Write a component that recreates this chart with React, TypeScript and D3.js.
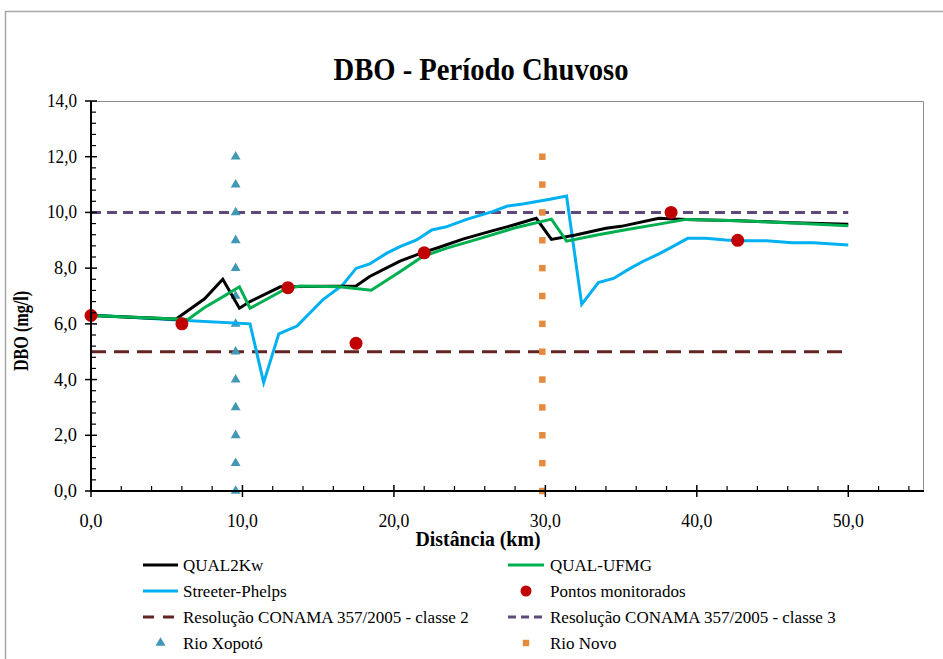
import React from "react";
import * as d3 from "d3";

const qual2kwX = [0, 5.6, 7.5, 8.7, 9.8, 10.5, 12.5, 17.5, 18.4, 20.4, 21.9, 23.0, 24.6, 26.3, 27.9, 29.4, 30.4, 32.0, 34.0, 35.0, 37.5, 39.3, 42.8, 46.3, 50.0];
const qual2kwY = [6.3, 6.17, 6.9, 7.6, 6.56, 6.8, 7.33, 7.36, 7.7, 8.25, 8.56, 8.75, 9.05, 9.31, 9.55, 9.79, 9.03, 9.19, 9.43, 9.5, 9.79, 9.75, 9.7, 9.63, 9.58];

const ufmgX = [0, 6.4, 7.5, 8.7, 9.8, 10.5, 12.9, 13.8, 16.4, 18.5, 20.4, 21.9, 23.5, 25.7, 27.9, 30.4, 31.4, 33.4, 35.4, 37.5, 39.3, 42.8, 46.3, 50.0];
const ufmgY = [6.3, 6.16, 6.59, 6.97, 7.33, 6.56, 7.27, 7.36, 7.33, 7.21, 7.87, 8.42, 8.72, 9.07, 9.43, 9.76, 8.97, 9.19, 9.39, 9.58, 9.75, 9.7, 9.62, 9.52];

const spX = [0, 5.65, 10.5, 11.4, 12.4, 13.6, 15.3, 16.6, 17.5, 18.4, 19.5, 20.4, 21.5, 22.5, 23.5, 24.8, 26.5, 27.5, 28.5, 30.3, 31.4, 32.4, 33.5, 34.5, 35.6, 36.4, 37.5, 38.4, 39.4, 40.6, 41.9, 42.8, 44.6, 46.3, 47.7, 50.0];
const spY = [6.32, 6.14, 6.0, 3.89, 5.64, 5.92, 6.86, 7.39, 7.99, 8.15, 8.53, 8.77, 9.01, 9.37, 9.49, 9.75, 10.03, 10.23, 10.3, 10.47, 10.59, 6.7, 7.48, 7.63, 7.99, 8.23, 8.51, 8.77, 9.07, 9.07, 9.01, 8.98, 8.98, 8.91, 8.91, 8.83];

const monX = [0, 6.0, 13.0, 17.5, 22.0, 38.3, 42.7];
const monY = [6.3, 6.0, 7.3, 5.3, 8.55, 10.0, 9.0];

const classe2X = [0, 50];
const classe2Y = [5, 5];
const classe3X = [0, 50];
const classe3Y = [10, 10];

const xopotoKm = 9.55;
const novoKm = 29.8;
const tribLevels = [0, 1, 2, 3, 4, 5, 6, 7, 8, 9, 10, 11, 12];

const xMajor = [0, 10, 20, 30, 40, 50];
const yMajor = [0, 2, 4, 6, 8, 10, 12, 14];

const title = "DBO - Período Chuvoso";
const xTitle = "Distância (km)";
const yTitle = "DBO (mg/l)";

const legendCol1 = ["QUAL2Kw", "Streeter-Phelps", "Resolução CONAMA 357/2005 - classe 2", "Rio Xopotó"];
const legendCol2 = ["QUAL-UFMG", "Pontos monitorados", "Resolução CONAMA 357/2005 - classe 3", "Rio Novo"];

const FONT = "'Liberation Serif', 'Times New Roman', serif";

export default function App() {
  const x = d3.scaleLinear().domain([0, 55]).range([91, 924]);
  const y = d3.scaleLinear().domain([0, 14]).range([491, 101]);
  const fmt = (v: number) => v.toFixed(1).replace(".", ",");

  const mk = (xs: number[], ys: number[]) =>
    d3.line<number>().x((_, i) => x(xs[i])).y((_, i) => y(ys[i]))(xs.map((_, i) => i)) || "";

  const xMinor = d3.range(0, 55.01, 2).filter((v) => v % 10 !== 0);
  const yMinor = d3.range(0, 14.01, 0.4).map((v) => +v.toFixed(1)).filter((v) => Math.abs(v / 2 - Math.round(v / 2)) > 1e-6);

  const tri = d3.symbol().type(d3.symbolTriangle).size(42)() || "";
  const sq = d3.symbol().type(d3.symbolSquare).size(42)() || "";

  const rowsY = [565, 591, 617, 643];
  const c1 = { x0: 143, x1: 178, tx: 183 };
  const c2 = { x0: 508, x1: 544, tx: 550 };

  return (
    <svg width={943} height={659} style={{ position: "absolute", left: 0, top: 0, background: "#fff" }} fontFamily={FONT}>
      <rect x={5.5} y={11.5} width={1000} height={1000} fill="#fff" stroke="#a6a6a6" strokeWidth={1.5} />
      <path d={`M${x(0)},${y(14) + 0.5}H${x(55) - 0.5}V${y(0)}`} fill="none" stroke="#8c8c8c" strokeWidth={1} />

      <text x={481} y={80} textAnchor="middle" fontSize={31} fontWeight="bold" textLength={295} lengthAdjust="spacingAndGlyphs">{title}</text>

      <path d={mk(classe2X, classe2Y)} stroke="#632523" strokeWidth={3} strokeDasharray="15 8" fill="none" />
      <path d={mk(classe3X, classe3Y)} stroke="#604a7b" strokeWidth={3} strokeDasharray="10 6" fill="none" />

      {tribLevels.map((v) => (
        <path key={"t" + v} d={tri} transform={`translate(${x(xopotoKm)},${y(v)})`} fill="#4198b4" />
      ))}
      {tribLevels.map((v) => (
        <path key={"s" + v} d={sq} transform={`translate(${x(novoKm)},${y(v)})`} fill="#e58a3f" />
      ))}

      <path d={mk(spX, spY)} stroke="#00b0f0" strokeWidth={3} fill="none" />
      <path d={mk(qual2kwX, qual2kwY)} stroke="#000" strokeWidth={3} fill="none" />
      <path d={mk(ufmgX, ufmgY)} stroke="#00b050" strokeWidth={3} fill="none" />
      {monX.map((v, i) => (
        <circle key={"m" + i} cx={x(v)} cy={y(monY[i])} r={6.5} fill="#c00000" />
      ))}

      <line x1={x(0)} x2={x(55)} y1={y(0)} y2={y(0)} stroke="#000" strokeWidth={2} />
      <line x1={x(0)} x2={x(0)} y1={y(0)} y2={y(14)} stroke="#000" strokeWidth={2} />
      {xMajor.map((v) => (
        <g key={"xm" + v}>
          <line x1={x(v)} x2={x(v)} y1={y(0) - 6} y2={y(0) + 6} stroke="#000" strokeWidth={1.5} />
          <text x={x(v)} y={527} textAnchor="middle" fontSize={18} textLength={v >= 10 ? 31 : 23} lengthAdjust="spacingAndGlyphs">{fmt(v)}</text>
        </g>
      ))}
      {xMinor.map((v) => (
        <line key={"xn" + v} x1={x(v)} x2={x(v)} y1={y(0) - 5} y2={y(0)} stroke="#000" strokeWidth={1.2} />
      ))}
      {yMajor.map((v) => (
        <g key={"ym" + v}>
          <line x1={x(0) - 6} x2={x(0) + 6} y1={y(v)} y2={y(v)} stroke="#000" strokeWidth={1.5} />
          <text x={77} y={y(v) + 6} textAnchor="end" fontSize={18} textLength={v >= 10 ? 30 : 23} lengthAdjust="spacingAndGlyphs">{fmt(v)}</text>
        </g>
      ))}
      {yMinor.map((v) => (
        <line key={"yn" + v} x1={x(0)} x2={x(0) + 5} y1={y(v)} y2={y(v)} stroke="#000" strokeWidth={1.2} />
      ))}

      <text x={478} y={546} textAnchor="middle" fontSize={20} fontWeight="bold" textLength={125} lengthAdjust="spacingAndGlyphs">{xTitle}</text>
      <text transform="translate(28,331) rotate(-90)" textAnchor="middle" fontSize={20} fontWeight="bold" textLength={80} lengthAdjust="spacingAndGlyphs">{yTitle}</text>

      <g fontSize={17}>
        <line x1={c1.x0} x2={c1.x1} y1={rowsY[0]} y2={rowsY[0]} stroke="#000" strokeWidth={3} />
        <line x1={c1.x0} x2={c1.x1} y1={rowsY[1]} y2={rowsY[1]} stroke="#00b0f0" strokeWidth={3} />
        <line x1={c1.x0} x2={c1.x1 + 2} y1={rowsY[2]} y2={rowsY[2]} stroke="#632523" strokeWidth={3} strokeDasharray="11 9" />
        <path d={tri} transform={`translate(${(c1.x0 + c1.x1) / 2},${rowsY[3]})`} fill="#4198b4" />
        <line x1={c2.x0} x2={c2.x1} y1={rowsY[0]} y2={rowsY[0]} stroke="#00b050" strokeWidth={3} />
        <circle cx={(c2.x0 + c2.x1) / 2} cy={rowsY[1]} r={5.5} fill="#c00000" />
        <line x1={c2.x0} x2={c2.x1} y1={rowsY[2]} y2={rowsY[2]} stroke="#604a7b" strokeWidth={3} strokeDasharray="8 5" />
        <path d={sq} transform={`translate(${(c2.x0 + c2.x1) / 2},${rowsY[3]})`} fill="#e58a3f" />
        {legendCol1.map((t, i) => (
          <text key={"l1" + i} x={c1.tx} y={rowsY[i] + 6}>{t}</text>
        ))}
        {legendCol2.map((t, i) => (
          <text key={"l2" + i} x={c2.tx} y={rowsY[i] + 6}>{t}</text>
        ))}
      </g>
    </svg>
  );
}
